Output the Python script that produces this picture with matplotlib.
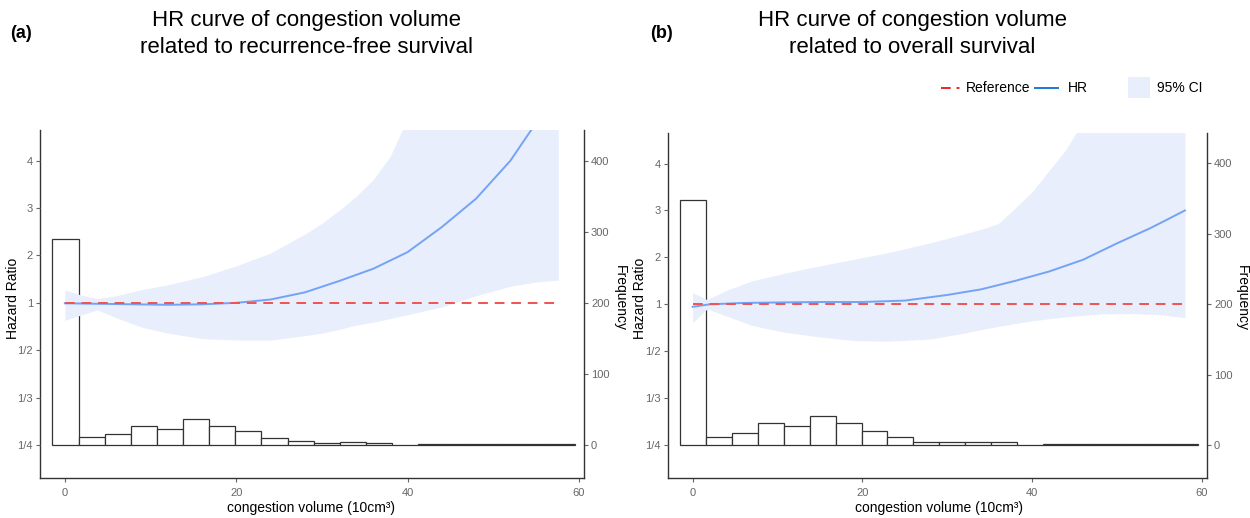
import matplotlib
matplotlib.use("Agg")
import matplotlib.pyplot as plt
import numpy as np
from matplotlib.lines import Line2D
from matplotlib.patches import Rectangle

plt.rcParams['font.family'] = ['Liberation Sans', 'DejaVu Sans']

# histogram of congestion volume (counts per bin)
bin_start = -1.45
bin_width = 3.05
counts_a = [290, 11, 15, 26, 22, 37, 26, 19, 10, 6, 3, 4, 2, 0, 1, 1, 1, 1, 1, 1]
counts_b = [348, 11, 17, 31, 27, 41, 31, 20, 11, 5, 5, 5, 4, 0, 1, 1, 1, 1, 1, 1]

# HR curves
hr_x_a = [0, 4, 8, 12, 16, 20, 24, 28, 32, 36, 40, 44, 48, 52, 55, 57.6]
hr_a = [0.99, 0.98, 0.97, 0.96, 0.97, 1.00, 1.07, 1.22, 1.46, 1.72, 2.07, 2.60, 3.20, 4.00, 4.80, 5.50]
hr_x_b = [0, 2, 6, 10, 15, 20, 25, 30, 34, 38, 42, 46, 50, 54, 58]
hr_b = [0.95, 1.0, 1.03, 1.04, 1.05, 1.05, 1.08, 1.20, 1.32, 1.50, 1.70, 1.95, 2.30, 2.63, 3.00]

# 95% CI
ci_x_a = [0, 2, 3.8, 6, 9, 12, 16, 20, 24, 28, 30, 32, 34, 36, 38, 40, 44, 48, 52, 55, 57.6]
ci_lo_a = [0.73, 0.80, 0.87, 0.76, 0.66, 0.61, 0.57, 0.56, 0.56, 0.59, 0.61, 0.64, 0.68, 0.71, 0.75, 0.80,
           0.92, 1.15, 1.35, 1.44, 1.48]
ci_hi_a = [1.27, 1.16, 1.09, 1.15, 1.28, 1.38, 1.55, 1.78, 2.05, 2.45, 2.68, 2.95, 3.25, 3.60, 4.10, 4.90,
           6.5, 8.0, 8.0, 8.0, 8.0]
ci_x_b = [0, 1.7, 4, 7, 11, 15, 19, 23, 28, 32, 34, 36, 38, 40, 42, 44, 48, 52, 55, 58]
ci_lo_b = [0.72, 0.91, 0.80, 0.69, 0.625, 0.59, 0.565, 0.56, 0.575, 0.62, 0.65, 0.68, 0.71, 0.74, 0.765,
           0.79, 0.83, 0.835, 0.82, 0.78]
ci_hi_b = [1.25, 1.10, 1.30, 1.50, 1.67, 1.82, 1.96, 2.10, 2.31, 2.50, 2.60, 2.72, 3.05, 3.40, 3.85,
           4.30, 5.50, 6.5, 7.0, 7.5]

hr_ticks = [1/4, 1/3, 1/2, 1, 2, 3, 4]
hr_labels = ['1/4', '1/3', '1/2', '1', '2', '3', '4']
freq_ticks = [0, 100, 200, 300, 400]
x_ticks = [0, 20, 40, 60]

titles = ['HR curve of congestion volume\nrelated to recurrence-free survival',
          'HR curve of congestion volume\nrelated to overall survival']

BAND = '#E8EEFB'
BLUE = '#74A3F6'
RED = '#EF5350'
TICKC = '#666666'
SPINE = '#333333'


def fwd(h):
    h = np.asarray(h, dtype=float)
    with np.errstate(divide='ignore', invalid='ignore'):
        return np.where(h >= 1, h - 1, 1 - 1 / h)


def inv(p):
    p = np.asarray(p, dtype=float)
    with np.errstate(divide='ignore', invalid='ignore'):
        return np.where(p >= 0, p + 1, 1 / (1 - p))


fig = plt.figure(figsize=(12.5, 5.18), dpi=100)


def panel(rect, counts, hx, hr, cx, clo, chi, ref_end):
    ax = fig.add_axes(rect)
    edges = bin_start + bin_width * np.arange(len(counts))
    ax.bar(edges, counts, width=bin_width, align='edge', facecolor='white',
           edgecolor=SPINE, linewidth=0.9, zorder=1)
    ax.set_xlim(-2.9, 60.6)
    ax.set_ylim(-46.7, 443.3)
    ax.set_xticks(x_ticks)

    ax2 = ax.twinx()
    ax2.set_yscale('function', functions=(fwd, inv))
    ax2.fill_between(cx, clo, chi, color=BAND, linewidth=0)
    ax2.plot(hx, hr, color=BLUE, linewidth=1.4)
    ax2.plot([0, ref_end], [1, 1], color=RED, linewidth=1.4, linestyle=(0, (5, 3.5)))
    ax2.set_ylim(0.2128, 4.65)
    ax2.yaxis.tick_left()
    ax2.set_yticks(hr_ticks)
    ax2.set_yticklabels(hr_labels)
    ax2.yaxis.set_minor_locator(matplotlib.ticker.NullLocator())
    for s in ax2.spines.values():
        s.set_visible(False)
    ax2.tick_params(axis='y', colors=TICKC, labelsize=8, length=3, width=0.8, pad=2)

    # frequency ticks on the right side
    ax.yaxis.tick_right()
    ax.set_yticks(freq_ticks)
    for s in ['left', 'bottom', 'right']:
        ax.spines[s].set_visible(True)
        ax.spines[s].set_color(SPINE)
        ax.spines[s].set_linewidth(1.0)
    ax.spines['top'].set_visible(False)
    ax.tick_params(axis='both', colors=TICKC, labelsize=8, length=3, width=0.8, pad=2)
    ax.tick_params(axis='x', pad=4)
    return ax


W, H = 1250, 518
panel([40 / W, 1 - 478 / H, 544 / W, 348 / H], counts_a, hr_x_a, hr_a, ci_x_a, ci_lo_a, ci_hi_a, 57.4)
panel([668 / W, 1 - 478 / H, 539 / W, 345 / H], counts_b, hr_x_b, hr_b, ci_x_b, ci_lo_b, ci_hi_b, 57.8)

# labels
for xl, xf, xr, tc, lt, lx, ti in [(13, 311, 620, 307, '(a)', 10, titles[0]),
                                   (640, 939, 1242, 912, '(b)', 650, titles[1])]:
    fig.text(xl / W, 1 - 298 / H, 'Hazard Ratio', rotation=90, ha='center', va='center', fontsize=10)
    fig.text(xr / W, 1 - 298 / H, 'Frequency', rotation=270, ha='center', va='center', fontsize=10)
    fig.text(xf / W, 1 - 508 / H, 'congestion volume (10cm³)', ha='center', va='center', fontsize=10)
    fig.text(tc / W, 1 - 34 / H, ti, ha='center', va='center', fontsize=16, linespacing=1.35)
    fig.text(lx / W, 1 - 34 / H, lt, ha='left', va='center', fontsize=13, fontweight='bold')

# legend
ly = 1 - 88 / H
fig.add_artist(Line2D([941 / W, 960 / W], [ly, ly], color='#E8262A', linewidth=1.4,
                      linestyle=(0, (5, 3, 1.5, 3)), transform=fig.transFigure))
fig.text(966 / W, ly, 'Reference', ha='left', va='center', fontsize=10)
fig.add_artist(Line2D([1035 / W, 1058 / W], [ly, ly], color='#1E78D2', linewidth=1.4,
                      transform=fig.transFigure))
fig.text(1068 / W, ly, 'HR', ha='left', va='center', fontsize=10)
fig.add_artist(Rectangle((1128 / W, 1 - 98 / H), 22 / W, 21 / H, facecolor=BAND, edgecolor='none',
                         transform=fig.transFigure))
fig.text(1157 / W, ly, '95% CI', ha='left', va='center', fontsize=10)

fig.savefig('out.png', dpi=100)
